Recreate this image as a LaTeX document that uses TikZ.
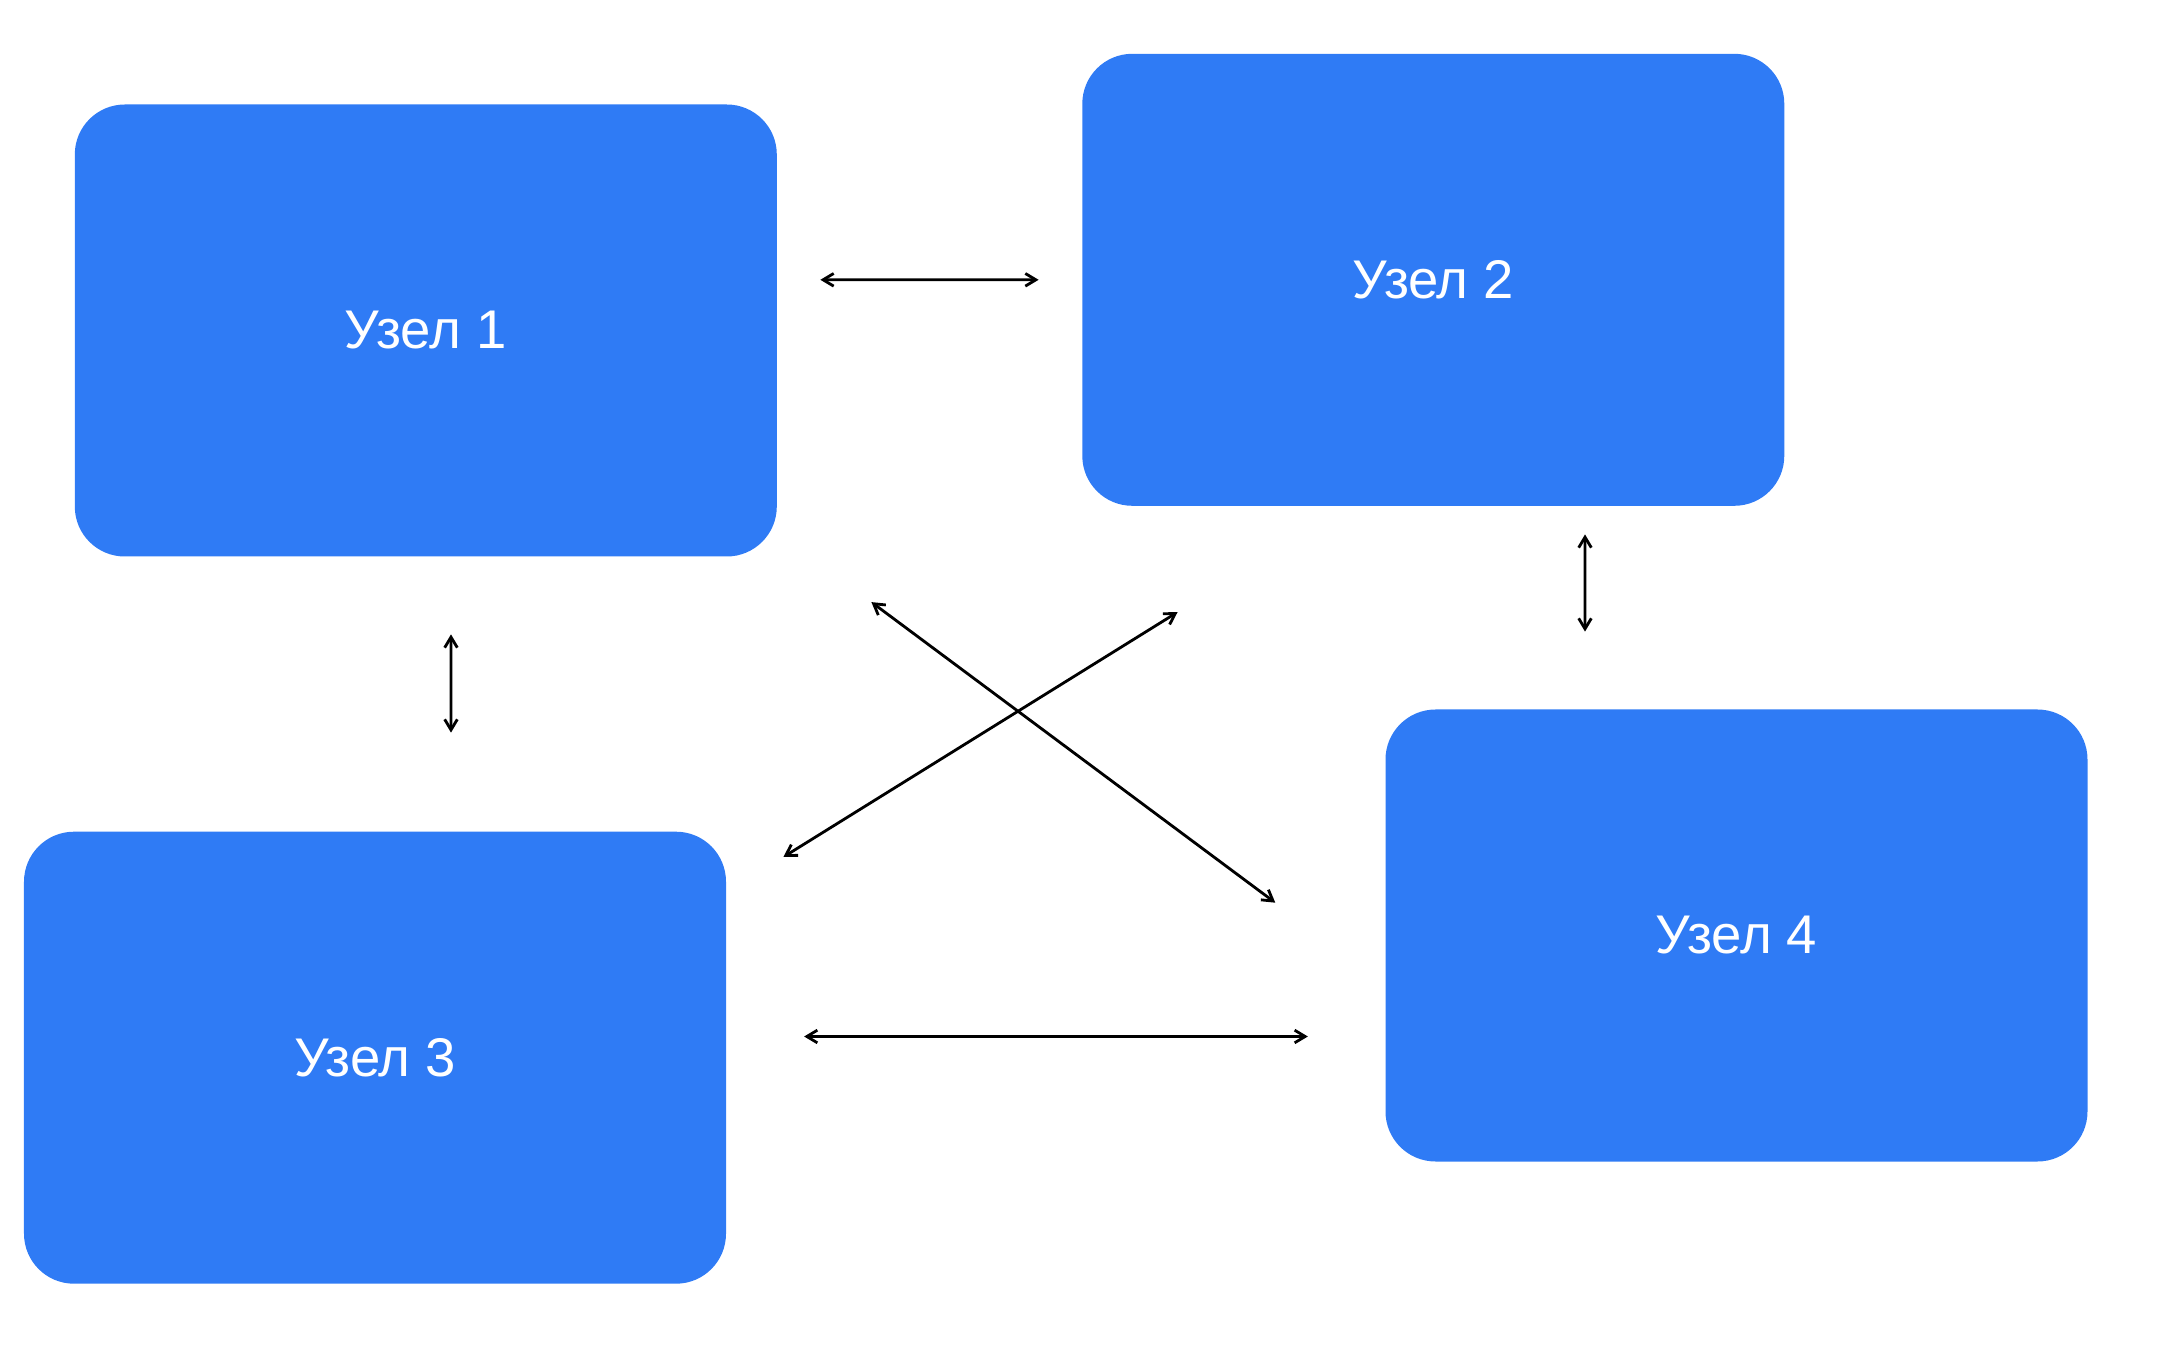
\documentclass[tikz,border=0pt]{standalone}
\usepackage{fontspec}
\setmainfont{Liberation Sans}
\usepackage{tikz}
\usepackage{xcolor}
\usetikzlibrary{arrows.meta,positioning}
\definecolor{nodeblue}{RGB}{47,123,245}

\begin{document}
\begin{tikzpicture}[>={Straight Barb[length=3pt,width=3.6pt]}, line width=0.8pt, every node/.style={fill=nodeblue, rounded corners=0.5cm, minimum width=7.02cm, minimum height=4.52cm, inner sep=0pt, text=white, font=\fontsize{15.5}{18}\selectfont}]
    \useasboundingbox (0,0) rectangle (21.78,13.70);
    
    \node (node1) at (4.258,10.395) {Узел 1};
    \node (node2) at (14.333,10.902) {Узел 2};
    \node (node3) at (3.75,3.123) {Узел 3};
    \node (node4) at (17.365,4.345) {Узел 4};
    
    \draw[<->] ([xshift=0.422cm,yshift=0.507cm]node1.east) -- ([xshift=-0.423cm]node2.west);
    \draw[<->] ([xshift=0.252cm,yshift=-0.765cm]node1.south) -- ([xshift=0.76cm,yshift=0.977cm]node3.north);
    \draw[<->] ([xshift=1.517cm,yshift=-0.272cm]node2.south) -- ([xshift=-1.515cm,yshift=0.765cm]node4.north);
    \draw[<->] ([xshift=0.767cm,yshift=0.212cm]node3.east) -- ([xshift=-0.762cm,yshift=-1.01cm]node4.west);
    \draw[<->] ([xshift=0.932cm,yshift=-0.442cm]node1.south east) -- ([xshift=-1.088cm,yshift=0.328cm]node4.west);
    \draw[<->] ([xshift=0.967cm,yshift=-1.049cm]node2.south west) -- ([xshift=0.56cm,yshift=-0.267cm]node3.north east);
\end{tikzpicture}
\end{document}
